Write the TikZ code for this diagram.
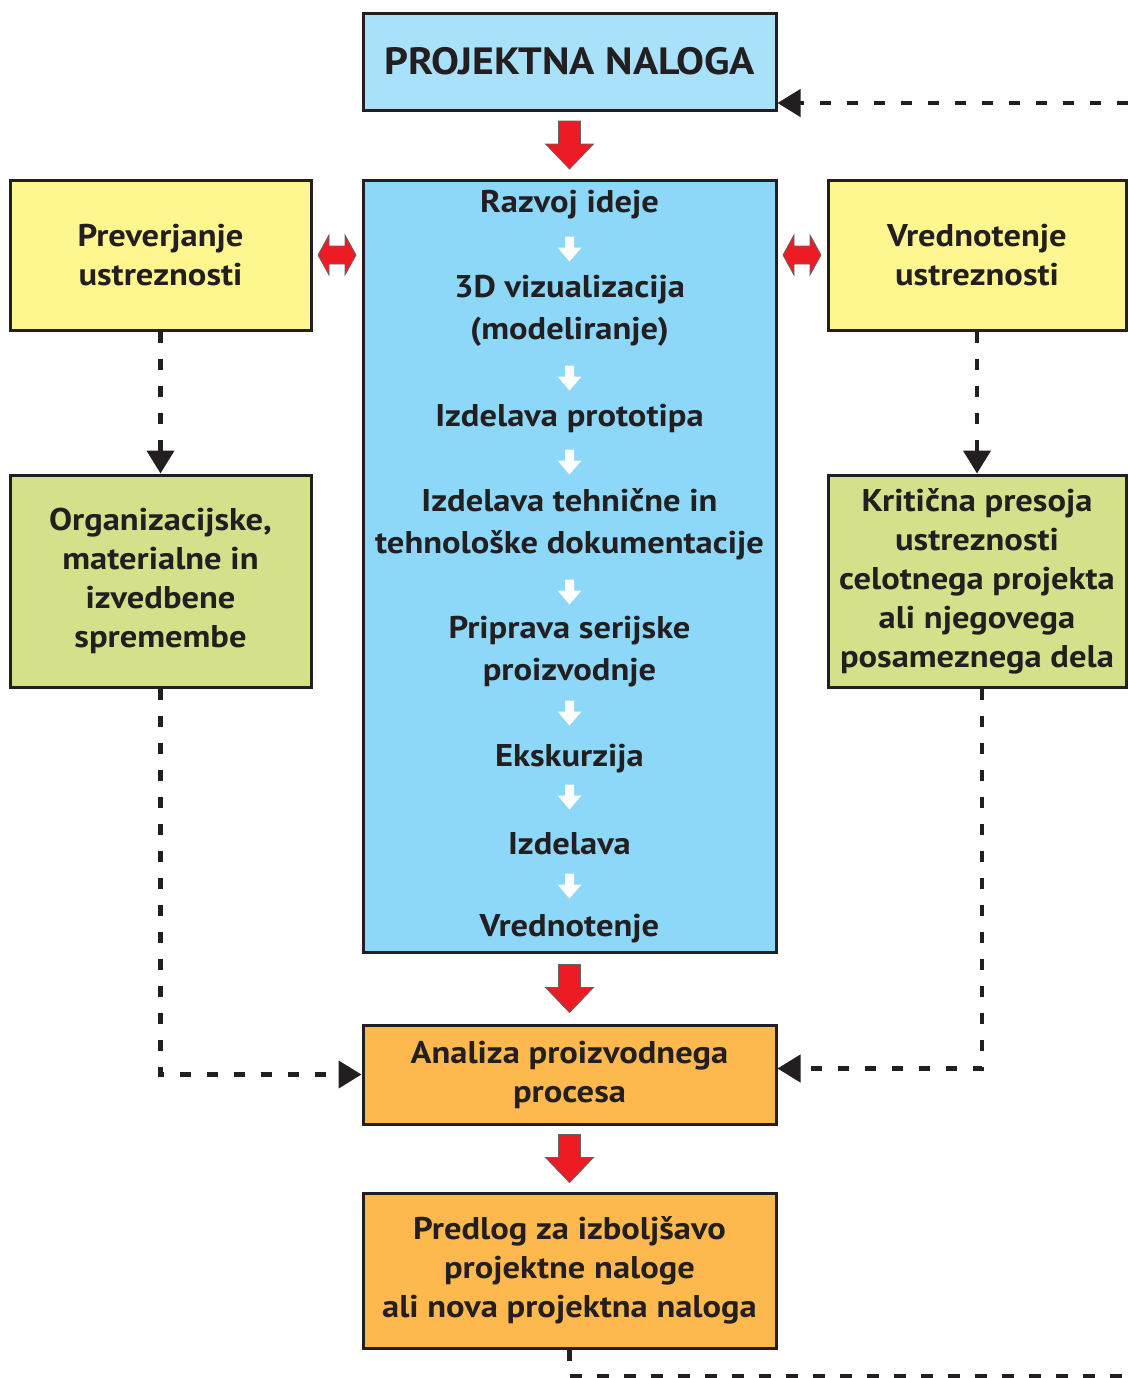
\documentclass[tikz,border=0pt]{standalone}
\usepackage{fontspec}
\setmainfont{PT Sans}[FakeStretch=1.1]
\usetikzlibrary{arrows.meta,calc}
\definecolor{ink}{HTML}{231F20}
\definecolor{nalogablue}{HTML}{A9E1FA}
\definecolor{fazeblue}{HTML}{8DD8F8}
\definecolor{checkyellow}{HTML}{FFF68F}
\definecolor{changegreen}{HTML}{D5E18A}
\definecolor{resultorange}{HTML}{FDB94D}
\definecolor{arrowred}{HTML}{ED1C24}
\tikzstyle{box}=[draw=ink,line width=1.5pt,inner sep=0pt,align=center,text=ink,font=\bfseries\fontsize{15.7}{19.5}\selectfont]
\tikzstyle{stage}=[inner sep=0pt,align=center,text=ink,font=\bfseries\fontsize{15.7}{21}\selectfont]
\tikzstyle{feedback}=[draw=ink,line width=2.2pt,dash pattern=on 5.75pt off 7.75pt,-{Triangle[length=11.5pt,width=13.5pt]}]
\tikzset{
  redarrow/.pic={\filldraw[fill=arrowred,draw=ink!70,line width=0.4pt]
    (-11,-24) -- (11,-24) -- (11,-1) -- (24,-1) -- (0,24) -- (-24,-1) -- (-11,-1) -- cycle;},
  whitearrow/.pic={\fill[white]
    (-4.5,-12.5) -- (4.5,-12.5) -- (4.5,-1.5) -- (12,-1.5) -- (0,12.5) -- (-12,-1.5) -- (-4.5,-1.5) -- cycle;},
  botharrow/.pic={\filldraw[fill=arrowred,draw=ink!70,line width=0.4pt]
    (-19,0) -- (-8,-20) -- (-8,-9) -- (8,-9) -- (8,-20) -- (19,0) -- (8,20) -- (8,9) -- (-8,9) -- (-8,20) -- cycle;}
}

\begin{document}
\begin{tikzpicture}[x=0.5pt,y=-0.5pt]
	\useasboundingbox (0,0) rectangle (1128,1378);
	\clip (0,0) rectangle (1128,1378);

	% Boxes
	\node[box,fill=nalogablue,minimum width=206.5pt,minimum height=48.5pt,font=\bfseries\fontsize{19}{22}\selectfont] (naloga) at (569.5,61.5) {PROJEKTNA NALOGA};
	\node[box,fill=fazeblue,minimum width=206.5pt,minimum height=386pt] (faze) at (569.5,566) {};
	\node[box,fill=checkyellow,minimum width=150.5pt,minimum height=75pt] (preverjanje) at (160.5,255) {Preverjanje\\ustreznosti};
	\node[box,fill=checkyellow,minimum width=149pt,minimum height=75pt] (vrednotenje) at (977,255) {Vrednotenje\\ustreznosti};
	\node[box,fill=changegreen,minimum width=150.5pt,minimum height=106pt] (spremembe) at (160.5,581) {Organizacijske,\\materialne in\\izvedbene\\spremembe};
	\node[box,fill=changegreen,minimum width=149pt,minimum height=106pt] (presoja) at (977,581) {Kritična presoja\\ustreznosti\\celotnega projekta\\ali njegovega\\posameznega dela};
	\node[box,fill=resultorange,minimum width=206.5pt,minimum height=49.5pt] (analiza) at (569.5,1074.5) {Analiza proizvodnega\\procesa};
	\node[box,fill=resultorange,minimum width=206.5pt,minimum height=77.5pt] (predlog) at (569.5,1270.5) {Predlog za izboljšavo\\projektne naloge\\ali nova projektna naloga};

	% Stages inside the main box
	\foreach \pos/\name/\text in {205/f1/{Razvoj ideje}, 311/f2/{3D vizualizacija\\(modeliranje)},
								  418/f3/{Izdelava prototipa}, 524/f4/{Izdelava tehnične in\\tehnološke dokumentacije},
								  652/f5/{Priprava serijske\\proizvodnje}, 759/f6/{Ekskurzija},
								  844/f7/{Izdelava}, 929/f8/{Vrednotenje}}
	\node[stage] (\name) at (569.5,\pos) {\text};
	\foreach \pos in {249,378,462,592,713,797,886}
	\pic at (569.5,\pos) {whitearrow};

	% Flow arrows
	\pic at ($(naloga.south)!0.5!(faze.north)$) {redarrow};
	\pic at ($(faze.south)!0.5!(analiza.north)$) {redarrow};
	\pic at ($(analiza.south)!0.5!(predlog.north)$) {redarrow};
	\pic at ($(preverjanje.east)!0.5!(preverjanje.east -| faze.west)$) {botharrow};
	\pic at ($(vrednotenje.west)!0.5!(vrednotenje.west -| faze.east)$) {botharrow};

	% Feedback lines
	\coordinate (topin) at (1128,103);
	\coordinate (botout) at (1128,1376);
	\draw[feedback] (topin) -- (topin -| naloga.east);
	\draw[feedback] (preverjanje.south) -- (spremembe.north);
	\draw[feedback] (vrednotenje.south) -- (presoja.north);
	\draw[feedback] (spremembe.south) |- (analiza.west);
	\draw[feedback] ([xshift=2.5pt]presoja.south) |- ([yshift=3pt]analiza.east);
	\draw[feedback,-] (predlog.south) |- (botout);
\end{tikzpicture}
\end{document}
